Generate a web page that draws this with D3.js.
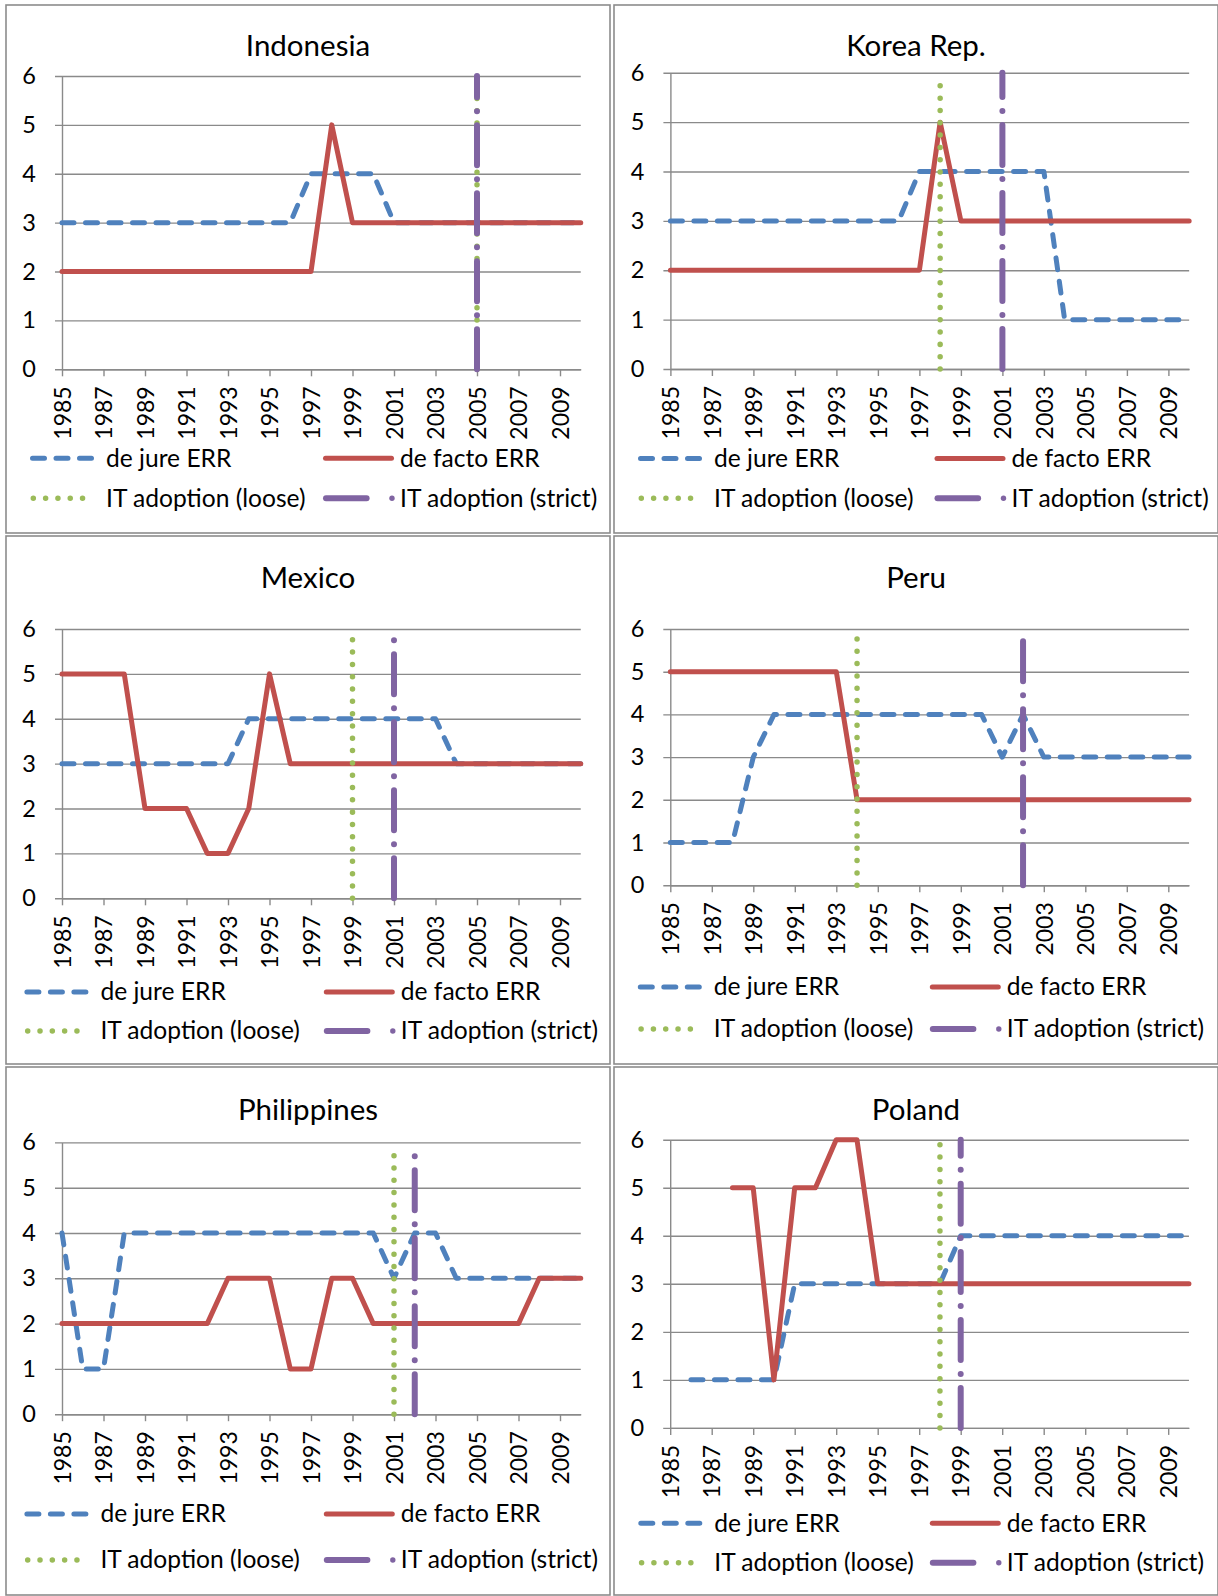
<!DOCTYPE html>
<html>
<head>
<meta charset="utf-8">
<script src="https://cdn.jsdelivr.net/npm/d3@7/dist/d3.min.js"></script>
<style>
  html, body { margin: 0; padding: 0; background: #fff; }
  svg { display: block; }
  text { font-family: Lato, "Open Sans", sans-serif; fill: #000; }
</style>
</head>
<body>
<svg id="chart" width="1218" height="1596"></svg>
<script>
// ---------------- DATA ----------------
const years = [1985,1986,1987,1988,1989,1990,1991,1992,1993,1994,1995,1996,1997,
               1998,1999,2000,2001,2002,2003,2004,2005,2006,2007,2008,2009,2010];
const yearTickLabels = [1985,1987,1989,1991,1993,1995,1997,1999,2001,2003,2005,2007,2009];
const yTickLabels = [0,1,2,3,4,5,6];
const countries = ["Indonesia","Korea Rep.","Mexico","Peru","Philippines","Poland"];
const seriesNames = ["de jure ERR","de facto ERR","IT adoption (loose)","IT adoption (strict)"];

const indonesiaDeJure  = [3,3,3,3,3,3,3,3,3,3,3,3,4,4,4,4,3,3,3,3,3,3,3,3,3,3];
const indonesiaDeFacto = [2,2,2,2,2,2,2,2,2,2,2,2,2,5,3,3,3,3,3,3,3,3,3,3,3,3];
const koreaDeJure      = [3,3,3,3,3,3,3,3,3,3,3,3,4,4,4,4,4,4,4,1,1,1,1,1,1,1];
const koreaDeFacto     = [2,2,2,2,2,2,2,2,2,2,2,2,2,5,3,3,3,3,3,3,3,3,3,3,3,3];
const mexicoDeJure     = [3,3,3,3,3,3,3,3,3,4,4,4,4,4,4,4,4,4,4,3,3,3,3,3,3,3];
const mexicoDeFacto    = [5,5,5,5,2,2,2,1,1,2,5,3,3,3,3,3,3,3,3,3,3,3,3,3,3,3];
const peruDeJure       = [1,1,1,1,3,4,4,4,4,4,4,4,4,4,4,4,3,4,3,3,3,3,3,3,3,3];
const peruDeFacto      = [5,5,5,5,5,5,5,5,5,2,2,2,2,2,2,2,2,2,2,2,2,2,2,2,2,2];
const philippinesDeJure  = [4,1,1,4,4,4,4,4,4,4,4,4,4,4,4,4,3,4,4,3,3,3,3,3,3,3];
const philippinesDeFacto = [2,2,2,2,2,2,2,2,3,3,3,1,1,3,3,2,2,2,2,2,2,2,2,3,3,3];
const polandDeJure     = [null,1,1,1,1,1,3,3,3,3,3,3,3,3,4,4,4,4,4,4,4,4,4,4,4,4];
const polandDeFacto    = [null,null,null,5,5,1,5,5,6,6,3,3,3,3,3,3,3,3,3,3,3,3,3,3,3,3];

// IT adoption year (loose / strict) and the height of each vertical marker line
const itLooseYear  = [2005,1998,1999,1994,2001,1998];
const itStrictYear = [2005,2001,2001,2002,2002,1999];
const itLooseTop   = [5.8,5.8,5.85,5.85,5.8,6];
const itStrictTop  = [6,6,6,5.75,6,6];

const deJureAll  = [indonesiaDeJure, koreaDeJure, mexicoDeJure, peruDeJure, philippinesDeJure, polandDeJure];
const deFactoAll = [indonesiaDeFacto, koreaDeFacto, mexicoDeFacto, peruDeFacto, philippinesDeFacto, polandDeFacto];

// ---------------- LAYOUT ----------------
const layout = [
  {left:6,   top:5,    x0:62,    y6:76,     y0:369.3, titleY:45,    leg1:458.3,  leg2:498.3,  tx1:100,   tx2:394},
  {left:614, top:5,    x0:670.4, y6:72.8,   y0:369,   titleY:45,    leg1:458.6,  leg2:498.3,  tx1:100,   tx2:397.5},
  {left:6,   top:536,  x0:62,    y6:629,    y0:898.3, titleY:577.2, leg1:992,    leg2:1031,   tx1:94.4,  tx2:394.8},
  {left:614, top:536,  x0:670.3, y6:629,    y0:885.2, titleY:577,   leg1:987,    leg2:1029,   tx1:99.8,  tx2:392.8},
  {left:6,   top:1067, x0:62,    y6:1142.4, y0:1414.2,titleY:1109.6,leg1:1514,   leg2:1560,   tx1:94.4,  tx2:394.8},
  {left:614, top:1067, x0:670.2, y6:1139.7, y0:1427.9,titleY:1109.6,leg1:1523.3, leg2:1562.7, tx1:100.3, tx2:392.8}
];
const panelW = 604, panelH = 528, yearStep = 20.75;
const C = {blue:"#4F81BD", red:"#C0504D", green:"#9BBB59", purple:"#8064A2", grid:"#8a8a8a", border:"#8c8c8c"};
const blueDash = "12 11.5";
const greenDot = "0.01 12.3";
const purpleDash = "40 14 0.01 14";

const svg = d3.select("#chart");

countries.forEach((name, i) => {
  const L = layout[i];
  const g = svg.append("g");

  // chart border
  g.append("rect").attr("x", L.left).attr("y", L.top).attr("width", panelW).attr("height", panelH)
    .attr("fill", "#fff").attr("stroke", C.border).attr("stroke-width", 1.6);

  // title
  g.append("text").attr("x", L.left + 302).attr("y", L.titleY).attr("dy", "0.36em")
    .attr("text-anchor", "middle").style("font-size", "29.5px").text(name);

  const x = d3.scalePoint().domain(years).range([L.x0, L.x0 + yearStep * (years.length - 1)]);
  const y = d3.scaleLinear().domain([0, 6]).range([L.y0, L.y6]);
  const plotW = x.range()[1] - L.x0;

  // y axis with gridlines
  const yAxis = d3.axisLeft(y).tickValues(yTickLabels).tickFormat(d3.format("d"))
    .tickSizeInner(-plotW).tickSizeOuter(0).tickPadding(26);
  const ya = g.append("g").attr("transform", `translate(${L.x0},0)`).call(yAxis);
  ya.select(".domain").attr("stroke", C.grid).attr("stroke-width", 1.4);
  ya.selectAll(".tick line").attr("x1", -7).attr("stroke", C.grid).attr("stroke-width", 1.4);
  ya.selectAll(".tick text").style("font-size", "23.5px").style("font-family", "Lato").attr("fill", "#000");

  // x axis
  const xAxis = d3.axisBottom(x).tickValues(yearTickLabels).tickSizeInner(7).tickSizeOuter(0);
  const xa = g.append("g").attr("transform", `translate(0,${L.y0})`).call(xAxis);
  xa.select(".domain").attr("stroke", C.grid).attr("stroke-width", 1.4);
  xa.selectAll(".tick line").attr("stroke", C.grid).attr("stroke-width", 1.4);
  xa.selectAll(".tick text")
    .attr("transform", "rotate(-90)")
    .attr("text-anchor", "end")
    .attr("x", -17).attr("y", 0).attr("dy", "0.36em")
    .style("font-size", "23px").style("font-family", "Lato").attr("fill", "#000");

  const line = d3.line()
    .defined(d => d.v !== null)
    .x(d => x(d.year)).y(d => y(d.v));

  const toPts = arr => arr.map((v, k) => ({year: years[k], v: v}));

  // de jure
  g.append("path").datum(toPts(deJureAll[i])).attr("d", line)
    .attr("fill", "none").attr("stroke", C.blue).attr("stroke-width", 5)
    .attr("stroke-dasharray", blueDash).attr("stroke-linecap", "round").attr("stroke-linejoin", "round");
  // de facto
  g.append("path").datum(toPts(deFactoAll[i])).attr("d", line)
    .attr("fill", "none").attr("stroke", C.red).attr("stroke-width", 5)
    .attr("stroke-linecap", "round").attr("stroke-linejoin", "round");
  // IT loose
  g.append("path").datum([{year: itLooseYear[i], v: 0}, {year: itLooseYear[i], v: itLooseTop[i]}]).attr("d", line)
    .attr("fill", "none").attr("stroke", C.green).attr("stroke-width", 5.5)
    .attr("stroke-dasharray", greenDot).attr("stroke-linecap", "round");
  // IT strict
  g.append("path").datum([{year: itStrictYear[i], v: 0}, {year: itStrictYear[i], v: itStrictTop[i]}]).attr("d", line)
    .attr("fill", "none").attr("stroke", C.purple).attr("stroke-width", 6)
    .attr("stroke-dasharray", purpleDash).attr("stroke-linecap", "round");

  // legend
  const a1 = L.left + L.tx1, a2 = L.left + L.tx2;
  const lg = g.append("g");
  lg.append("line").attr("x1", a1 - 73.5).attr("x2", a1 - 14.5).attr("y1", L.leg1).attr("y2", L.leg1)
    .attr("stroke", C.blue).attr("stroke-width", 5).attr("stroke-dasharray", blueDash).attr("stroke-linecap", "round");
  lg.append("line").attr("x1", a2 - 74.5).attr("x2", a2 - 8.5).attr("y1", L.leg1).attr("y2", L.leg1)
    .attr("stroke", C.red).attr("stroke-width", 5).attr("stroke-linecap", "round");
  lg.append("line").attr("x1", a1 - 72.7).attr("x2", a1 - 14.4).attr("y1", L.leg2).attr("y2", L.leg2)
    .attr("stroke", C.green).attr("stroke-width", 5.5).attr("stroke-dasharray", greenDot).attr("stroke-linecap", "round");
  lg.append("line").attr("x1", a2 - 74).attr("x2", a2 - 33.4).attr("y1", L.leg2).attr("y2", L.leg2)
    .attr("stroke", C.purple).attr("stroke-width", 6).attr("stroke-linecap", "round");
  lg.append("circle").attr("cx", a2 - 8).attr("cy", L.leg2).attr("r", 2.7).attr("fill", C.purple);

  const legText = [[a1, L.leg1, seriesNames[0]], [a2, L.leg1, seriesNames[1]],
                   [a1, L.leg2, seriesNames[2]], [a2, L.leg2, seriesNames[3]]];
  legText.forEach(t => {
    lg.append("text").attr("x", t[0]).attr("y", t[1]).attr("dy", "0.34em")
      .style("font-size", "24.6px").text(t[2]);
  });
});
</script>
</body>
</html>
